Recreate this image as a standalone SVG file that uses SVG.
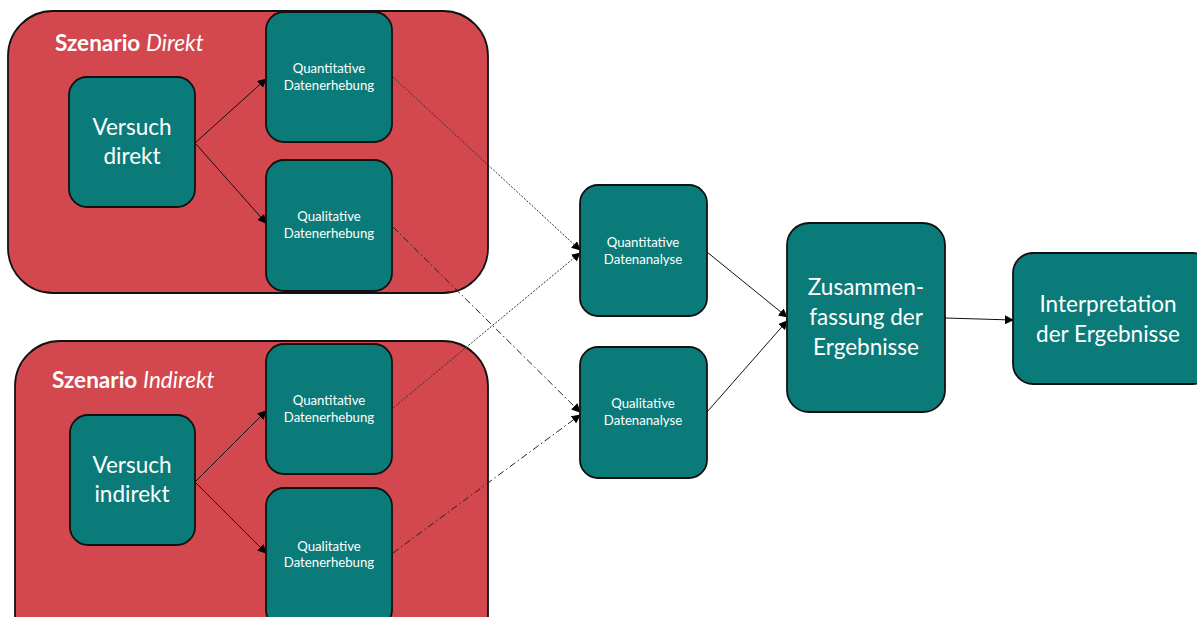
<svg xmlns="http://www.w3.org/2000/svg" width="1197" height="617" viewBox="0 0 1197 617">
  <style>
    .scenario { fill: #D3474E; stroke: #111; stroke-width: 1.8; }
    .node { fill: #0B7B79; stroke: #111; stroke-width: 1.8; }
    .t { fill: #ffffff; font-family: Lato, "Open Sans", sans-serif; text-anchor: middle; }
    .small { font-size: 13.2px; }
    .big { font-size: 22.5px; }
    .title { font-size: 22.5px; text-anchor: start; }
    .link { fill: none; stroke: #111; stroke-width: 1; }
    .dot { stroke-dasharray: 2 1.5; stroke: #333; }
    .dashdot { stroke-dasharray: 7 3 1.5 3; stroke: #222; }
  </style>
  <defs>
    <marker id="arrow" viewBox="0 0 10 10" refX="9" refY="5" markerWidth="9" markerHeight="9" markerUnits="userSpaceOnUse" orient="auto">
      <path d="M0,0 L10,5 L0,10 z" fill="#000"/>
    </marker>
  </defs>

  <!-- scenario containers -->
  <g id="scenario-direkt">
    <rect class="scenario" x="8" y="11" width="480" height="282" rx="45"/>
    <text class="t title" x="55" y="51"><tspan font-weight="bold">Szenario</tspan> <tspan font-style="italic">Direkt</tspan></text>
  </g>
  <g id="scenario-indirekt">
    <rect class="scenario" x="15" y="341" width="473" height="320" rx="45"/>
    <text class="t title" x="52" y="388"><tspan font-weight="bold">Szenario</tspan> <tspan font-style="italic">Indirekt</tspan></text>
  </g>

  <!-- connectors -->
  <g id="connectors">
    <line class="link" x1="195" y1="143" x2="266" y2="79" marker-end="url(#arrow)"/>
    <line class="link" x1="195" y1="143" x2="266" y2="223" marker-end="url(#arrow)"/>
    <line class="link" x1="195" y1="482" x2="266" y2="411" marker-end="url(#arrow)"/>
    <line class="link" x1="195" y1="482" x2="266" y2="553" marker-end="url(#arrow)"/>
    <line class="link dot" x1="393" y1="77" x2="580" y2="250" marker-end="url(#arrow)"/>
    <line class="link dot" x1="393" y1="408" x2="580" y2="253" marker-end="url(#arrow)"/>
    <line class="link dashdot" x1="393" y1="227" x2="580" y2="412" marker-end="url(#arrow)"/>
    <line class="link dashdot" x1="393" y1="553" x2="580" y2="415" marker-end="url(#arrow)"/>
    <line class="link" x1="707" y1="252" x2="787" y2="317" marker-end="url(#arrow)"/>
    <line class="link" x1="707" y1="412" x2="787" y2="321" marker-end="url(#arrow)"/>
    <line class="link" x1="945" y1="318" x2="1013" y2="320" marker-end="url(#arrow)"/>
  </g>

  <!-- nodes -->
  <g id="versuch-direkt">
    <rect class="node" x="69" y="77" width="126" height="130" rx="18"/>
    <text class="t big" x="132" y="135">Versuch</text>
    <text class="t big" x="132" y="164">direkt</text>
  </g>
  <g id="quant-erhebung-direkt">
    <rect class="node" x="266" y="12" width="126" height="130" rx="18"/>
    <text class="t small" x="329" y="73">Quantitative</text>
    <text class="t small" x="329" y="90">Datenerhebung</text>
  </g>
  <g id="qual-erhebung-direkt">
    <rect class="node" x="266" y="160" width="126" height="131" rx="18"/>
    <text class="t small" x="329" y="221">Qualitative</text>
    <text class="t small" x="329" y="238">Datenerhebung</text>
  </g>
  <g id="versuch-indirekt">
    <rect class="node" x="70" y="415" width="125" height="130" rx="18"/>
    <text class="t big" x="132" y="473">Versuch</text>
    <text class="t big" x="132" y="502">indirekt</text>
  </g>
  <g id="quant-erhebung-indirekt">
    <rect class="node" x="266" y="344" width="126" height="130" rx="18"/>
    <text class="t small" x="329" y="405">Quantitative</text>
    <text class="t small" x="329" y="422">Datenerhebung</text>
  </g>
  <g id="qual-erhebung-indirekt">
    <rect class="node" x="266" y="488" width="126" height="140" rx="18"/>
    <text class="t small" x="329" y="551">Qualitative</text>
    <text class="t small" x="329" y="567">Datenerhebung</text>
  </g>
  <g id="quant-analyse">
    <rect class="node" x="580" y="185" width="127" height="131" rx="18"/>
    <text class="t small" x="643" y="247">Quantitative</text>
    <text class="t small" x="643" y="264">Datenanalyse</text>
  </g>
  <g id="qual-analyse">
    <rect class="node" x="580" y="347" width="127" height="131" rx="18"/>
    <text class="t small" x="643" y="408">Qualitative</text>
    <text class="t small" x="643" y="425">Datenanalyse</text>
  </g>
  <g id="zusammenfassung">
    <rect class="node" x="787" y="223" width="158" height="189" rx="22"/>
    <text class="t big" x="866" y="295">Zusammen-</text>
    <text class="t big" x="866" y="325">fassung der</text>
    <text class="t big" x="866" y="355">Ergebnisse</text>
  </g>
  <g id="interpretation">
    <rect class="node" x="1013" y="253" width="200" height="131" rx="20"/>
    <text class="t big" x="1108" y="312">Interpretation</text>
    <text class="t big" x="1108" y="342">der Ergebnisse</text>
  </g>
</svg>
